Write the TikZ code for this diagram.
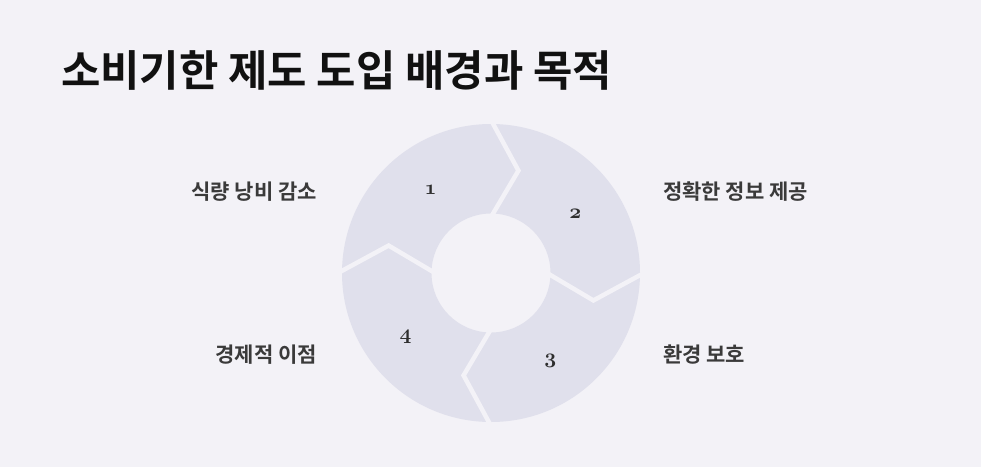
\documentclass[tikz,border=0pt]{standalone}
\usepackage{fontspec}
\usetikzlibrary{calc}
\newfontfamily\krb{Noto Sans CJK KR Bold}
\definecolor{bg}{HTML}{F3F2F7}
\definecolor{ring}{HTML}{E0E0EC}
\definecolor{lbl}{HTML}{3A3A3A}
\definecolor{ttl}{HTML}{111111}
\definecolor{num}{HTML}{2E2E2E}
\tikzset{
  lab/.style={font=\krb\fontsize{21}{25}\selectfont, text=lbl, inner sep=0pt},
  numlab/.style={font=\fontsize{22}{26}\usefont{OML}{cmm}{b}{it}, text=num, inner sep=0pt},
  gap/.style={draw=bg, line width=4.5pt, line join=miter}
}
\begin{document}
\begin{tikzpicture}[x=1pt,y=1pt]
\fill[bg] (0,0) rectangle (981,467);
\useasboundingbox (0,0) rectangle (981,467);
\coordinate (c) at (491,194);
\fill[ring, even odd rule] (c) circle[radius=149] (c) circle[radius=59.5];
\foreach \a in {90,0,-90,180}{
  \draw[gap] ($(c)+(\a:153)$) -- ($(c)+(\a-15:106)$) -- ($(c)+(\a:56)$);
}
\node[numlab] (n1) at ($(c)+(126:103)$) {1};
\node[numlab] (n2) at ($(c)+(35:103)$) {2};
\node[numlab] (n3) at ($(c)+(-56:106)$) {3};
\node[numlab] (n4) at ($(c)+(-143:107)$) {4};
\node[anchor=west, inner sep=0pt, font=\krb\fontsize{42.8}{50}\selectfont, text=ttl] (title) at (61,397) {소비기한 제도 도입 배경과 목적};
\node[lab, anchor=east] (l1) at (317,275) {식량 낭비 감소};
\node[lab, anchor=west] (l2) at (663,275) {정확한 정보 제공};
\node[lab, anchor=west] (l3) at (663,112) {환경 보호};
\node[lab, anchor=east] (l4) at (317,112) {경제적 이점};
\end{tikzpicture}
\end{document}
